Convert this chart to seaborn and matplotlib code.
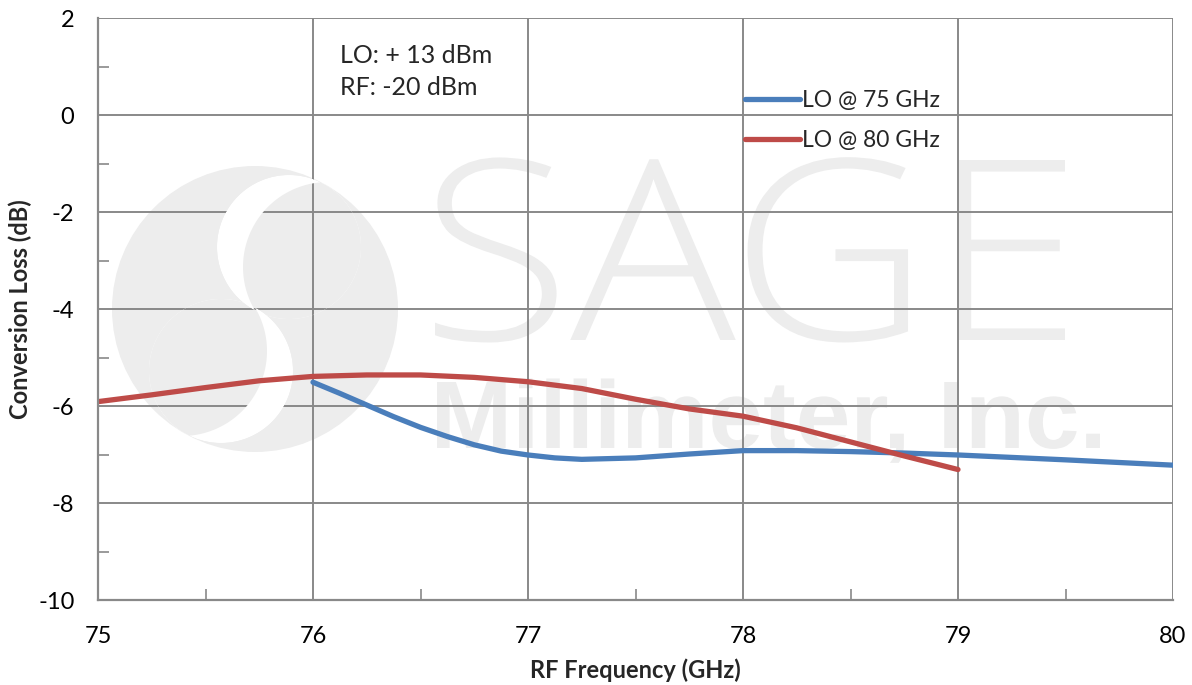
import pandas as pd
import numpy as np
import seaborn as sns
import matplotlib.pyplot as plt
from matplotlib.patches import Circle, PathPatch
from matplotlib.path import Path
from matplotlib.textpath import TextPath
from matplotlib.font_manager import FontProperties
from matplotlib.transforms import Affine2D

# -------------------------------
# Data
# -------------------------------
freq_lo75 = [76.0, 76.125, 76.25, 76.375, 76.5, 76.625, 76.75, 76.875, 77.0, 77.125, 77.25,
             77.5, 77.75, 78.0, 78.25, 78.5, 78.75, 79.0, 79.5, 80.0]
loss_lo75 = [-5.51, -5.74, -5.98, -6.22, -6.44, -6.63, -6.80, -6.93, -7.01, -7.07, -7.10,
             -7.07, -6.99, -6.92, -6.92, -6.94, -6.97, -7.01, -7.11, -7.22]

freq_lo80 = [75.0, 75.25, 75.5, 75.75, 76.0, 76.25, 76.5, 76.75, 77.0, 77.25, 77.5, 77.75,
             78.0, 78.25, 78.5, 78.75, 79.0]
loss_lo80 = [-5.91, -5.77, -5.62, -5.48, -5.39, -5.36, -5.36, -5.41, -5.50, -5.64, -5.86, -6.06,
             -6.21, -6.45, -6.74, -7.03, -7.31]

series_names = ["LO @ 75 GHz", "LO @ 80 GHz"]
series_colors = ["#4A7EBB", "#BE4B48"]

x_ticks = [75, 76, 77, 78, 79, 80]
y_ticks = [-10, -8, -6, -4, -2, 0, 2]

# build one long table for seaborn
df = pd.concat([
    pd.DataFrame({"freq": freq_lo75, "loss": loss_lo75, "series": series_names[0]}),
    pd.DataFrame({"freq": freq_lo80, "loss": loss_lo80, "series": series_names[1]}),
], ignore_index=True)

sns.set_style("white")
plt.rcParams["font.family"] = ["Lato", "DejaVu Sans"]
plt.rcParams["axes.unicode_minus"] = False

W, H = 1192, 685
fig = plt.figure(figsize=(W / 100, H / 100), dpi=100)
ax = fig.add_axes([98 / W, 1 - 600 / H, 1075 / W, 582 / H])

# pixel coords (y down from top) -> display
px = Affine2D().scale(0.01, -0.01).translate(0, H / 100) + fig.dpi_scale_trans
px_up = Affine2D().scale(0.01) + fig.dpi_scale_trans

# -------------------------------
# Watermark (faint logo + company name)
# -------------------------------
wm = "#EDEDED"
ax.add_patch(Circle((255, 309), 143, transform=px, facecolor=wm, edgecolor="none", zorder=0.5))


def crescent(outer, inner):
    """White crescent = outer circle minus inner circle (pixel coords)."""
    t = np.linspace(0, 2 * np.pi, 240)
    (ox, oy, orad), (ix, iy, irad) = outer, inner
    ring1 = np.column_stack([ox + orad * np.cos(t), oy + orad * np.sin(t)])
    ring2 = np.column_stack([ix + irad * np.cos(t[::-1]), iy + irad * np.sin(t[::-1])])
    path = Path.make_compound_path(Path(ring1, closed=True), Path(ring2, closed=True))
    p = PathPatch(path, transform=px, facecolor="white", edgecolor="none", zorder=0.6)
    ax.add_patch(p)
    p.set_clip_path(Circle((ox, oy), orad, transform=px))


crescent((289, 247, 72), (328, 267, 85))
crescent((221, 371, 72), (182, 351, 85))


def watermark(text, x0, x1, y_top, y_base, family, weight):
    fp = FontProperties(family=family, weight=weight)
    tp = TextPath((0, 0), text, size=100, prop=fp)
    ext = tp.get_extents()
    cap = TextPath((0, 0), "M", size=100, prop=fp).get_extents().y1
    sx = (x1 - x0) / (ext.x1 - ext.x0)
    sy = (y_base - y_top) / cap
    tr = Affine2D().translate(-ext.x0, 0).scale(sx, sy).translate(x0, H - y_base) + px_up
    ax.add_patch(PathPatch(tp, transform=tr, facecolor=wm, edgecolor="none", zorder=0.5))


watermark("SAGE", 435, 1065, 160, 340, "Open Sans", "light")
watermark("Millimeter, Inc.", 437, 1100, 382, 448, "Liberation Sans", "bold")

# -------------------------------
# Lines
# -------------------------------
sns.lineplot(data=df, x="freq", y="loss", hue="series", hue_order=series_names,
             palette=series_colors, linewidth=3.8, sort=False, ax=ax,
             solid_capstyle="round", solid_joinstyle="round")

ax.set_xlim(75, 80)
ax.set_ylim(-10, 2)
ax.set_xticks(x_ticks)
ax.set_yticks(y_ticks)
ax.set_xticks(np.arange(75.5, 80, 1), minor=True)
ax.set_yticks(np.arange(-9, 2, 2), minor=True)

grid_c = "#898989"
ax.grid(True, which="major", color=grid_c, linewidth=1.4)
ax.tick_params(which="major", length=0, labelsize=17, colors="black",
               bottom=True, left=True)
ax.tick_params(axis="x", which="major", pad=19)
ax.tick_params(axis="y", which="major", pad=17)
ax.tick_params(which="minor", direction="in", length=8, width=1.2, color=grid_c,
               bottom=True, left=True)
for side in ["top", "right"]:
    ax.spines[side].set_visible(False)
for side in ["left", "bottom"]:
    ax.spines[side].set_color(grid_c)
    ax.spines[side].set_linewidth(1.6)

ax.set_xlabel("RF Frequency (GHz)", fontsize=17, fontweight="bold", labelpad=8)
ax.set_ylabel("Conversion Loss (dB)", fontsize=17, fontweight="bold", labelpad=4)

# condition note
ax.text(0.225, 0.956, "LO: + 13 dBm\nRF: -20 dBm", transform=ax.transAxes,
        fontsize=18, va="top", ha="left", linespacing=1.52)

leg = ax.legend(loc="upper left", bbox_to_anchor=(0.602, 0.876), frameon=False,
                fontsize=16.5, handlelength=2.4, handletextpad=0.08, labelspacing=0.84,
                borderaxespad=0, borderpad=0)

fig.savefig("out.png", dpi=100)
